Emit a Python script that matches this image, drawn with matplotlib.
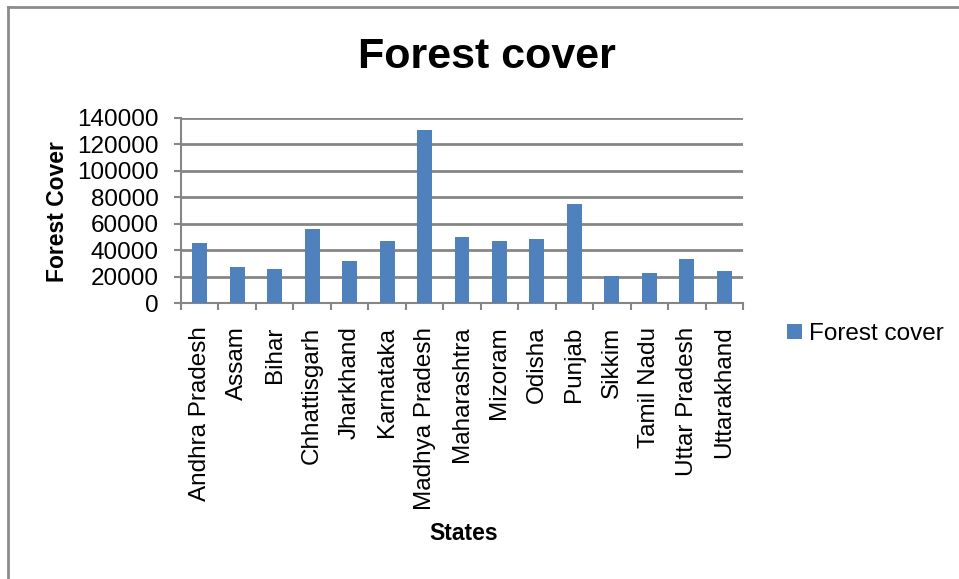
import numpy as np
import matplotlib.pyplot as plt
from matplotlib.lines import Line2D

# Forest cover by state
states = ["Andhra Pradesh", "Assam", "Bihar", "Chhattisgarh", "Jharkhand",
          "Karnataka", "Madhya Pradesh", "Maharashtra", "Mizoram", "Odisha",
          "Punjab", "Sikkim", "Tamil Nadu", "Uttar Pradesh", "Uttarakhand"]
forest_cover = [45700, 27200, 25700, 55700, 32000,
                46700, 130900, 50000, 46900, 48400,
                74700, 20200, 23000, 33500, 24000]

FONT = ["Liberation Sans", "DejaVu Sans"]
BLUE = "#4F81BD"
GRID = "#868686"

W, H = 959, 579
fig = plt.figure(figsize=(W / 100, H / 100), dpi=100)
ax = fig.add_axes([181 / W, (H - 303) / H, (743 - 181) / W, (303 - 118) / H])

x = np.arange(len(states))
ax.bar(x, forest_cover, width=0.4, color=BLUE, label="Forest cover", zorder=3)

ax.set_xlim(-0.5, len(states) - 0.5)
ax.set_ylim(0, 140000)
ax.set_yticks(np.arange(0, 140001, 20000))
ax.set_yticklabels([str(v) for v in range(0, 140001, 20000)],
                   family=FONT, fontsize=17.5)
ax.yaxis.grid(True, color=GRID, linewidth=2, zorder=0)

ax.set_xticks(x)
ax.set_xticklabels(states, rotation=90, family=FONT, fontsize=17.5)
ax.tick_params(axis="x", length=0, pad=17)
ax.set_xticks(np.arange(-0.5, len(states)), minor=True)
ax.tick_params(axis="x", which="minor", length=5, width=1.5, color=GRID)
ax.tick_params(axis="y", length=5, width=1.5, color=GRID, pad=11)

for side in ["top", "right"]:
    ax.spines[side].set_visible(False)
for side in ["left", "bottom"]:
    ax.spines[side].set_color(GRID)
    ax.spines[side].set_linewidth(1.5)

fig.text(57 / W, 1 - 212 / H, "Forest Cover", family=FONT, fontsize=16.5,
         fontweight="bold", rotation=90, ha="center", va="center")
fig.text(464 / W, 1 - 533 / H, "States", family=FONT, fontsize=16.5,
         fontweight="bold", ha="center", va="center")
fig.text(487 / W, 1 - 57 / H, "Forest cover", family=FONT, fontsize=31,
         fontweight="bold", ha="center", va="center")

leg = ax.legend(loc="center left", bbox_to_anchor=(780 / W, 1 - 334 / H),
                bbox_transform=fig.transFigure, frameon=False,
                prop={"family": FONT, "size": 17.5},
                handlelength=0.6, handleheight=0.6, handletextpad=0.3,
                borderaxespad=0, borderpad=0.3)

# chart area border
fig.add_artist(Line2D([8 / W, 8 / W], [0, 1 - 7 / H], color="#8c8c8c",
                      linewidth=2, transform=fig.transFigure))
fig.add_artist(Line2D([8 / W, 1], [1 - 7 / H, 1 - 7 / H], color="#8c8c8c",
                      linewidth=2, transform=fig.transFigure))

fig.savefig("out.png", dpi=100)
